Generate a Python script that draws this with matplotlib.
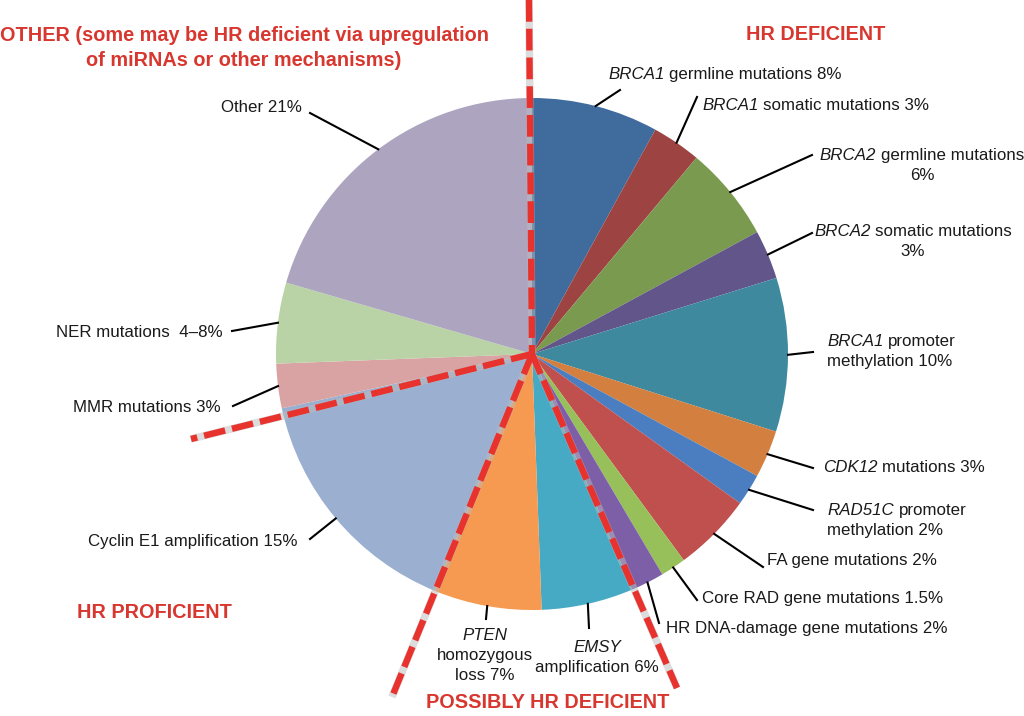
import matplotlib.pyplot as plt
import numpy as np

plt.rcParams['font.family'] = 'Liberation Sans'

# slice sizes as drawn (percent of the circle), clockwise from 12 o'clock
# *...* marks the italic (gene name) part of a label
labels = [
    '*BRCA1* germline mutations 8%',
    '*BRCA1* somatic mutations 3%',
    '*BRCA2* germline mutations\n6%',
    '*BRCA2* somatic mutations\n3%',
    '*BRCA1* promoter\nmethylation 10%',
    '*CDK12* mutations 3%',
    '*RAD51C* promoter\nmethylation 2%',
    'FA gene mutations 2%',
    'Core RAD gene mutations 1.5%',
    'HR DNA-damage gene mutations 2%',
    '*EMSY*\namplification 6%',
    '*PTEN*\nhomozygous\nloss 7%',
    'Cyclin E1 amplification 15%',
    'MMR mutations 3%',
    'NER mutations  4\u20138%',
    'Other 21%',
]
values = [8, 3.1, 6, 3.1, 9.7, 3, 2, 5, 1.6, 2.1, 5.8, 6.8, 15.4, 2.8, 5.1, 20.5]
colors = ['#3f6b9d', '#9d4443', '#7a9a4f', '#62558a', '#3e899e', '#d27f3f',
          '#4a7ec0', '#c0504d', '#98c05a', '#7d5fa8', '#46aac4', '#f59a50',
          '#9bb0d0', '#d9a3a3', '#bad3a6', '#ada5c0']

# label placement: text anchor (block centre), alignment, end of leader line
label_pos = [
    (608, 643, 'left'), (702, 612, 'left'), (922, 552, 'center'),
    (913, 476, 'center'), (827, 366, 'left'), (823, 250, 'left'),
    (827, 197, 'left'), (767, 157, 'left'), (702, 119, 'left'),
    (666, 89, 'left'), (597, 60, 'center'), (485, 62, 'center'),
    (298, 176, 'right'), (221, 310, 'right'), (223, 385, 'right'),
    (302, 610, 'right'),
]
leader_end = [
    (620, 626), (697, 619), (812, 561), (812, 483), (813, 364), (813, 248),
    (813, 206), (763, 149), (697, 116), (659, 93), (589, 88), (486, 97),
    (310, 177), (233, 310), (232, 385), (310, 603),
]

red = '#d8372f'
dash_red = '#e8322e'
FS = 12.2
LINE_H = 20.5

fig = plt.figure(figsize=(10.24, 7.16), dpi=100)
ax = fig.add_axes([0, 0, 1, 1])

CX, CY, R = 532, 362, 256
wedges, _ = ax.pie(values, colors=colors, startangle=90, counterclock=False,
                   center=(CX, CY), radius=R, frame=True,
                   wedgeprops=dict(linewidth=0))
ax.set_xlim(0, 1024)
ax.set_ylim(0, 716)
ax.set_aspect('equal')
ax.axis('off')

renderer = fig.canvas.get_renderer()


def text_width(s, style):
    t = ax.text(0, 0, s, fontsize=FS, style=style)
    w = t.get_window_extent(renderer).width
    t.remove()
    return w


space_w = text_width('x x', 'normal') - text_width('xx', 'normal')


def draw_label(x, y, text, ha):
    lines = text.split('\n')
    n = len(lines)
    for i, line in enumerate(lines):
        base = y + (n - 1) / 2 * LINE_H - i * LINE_H - 6
        segs = []
        for k, s in enumerate(line.split('*')):
            if s.strip():
                segs.append((s, 'italic' if k % 2 else 'normal'))
        # widths with explicit spacing between segments
        parts = []
        for s, st in segs:
            lead = len(s) - len(s.lstrip(' '))
            trail = len(s) - len(s.rstrip(' '))
            parts.append((s.strip(' '), st, lead, trail))
        total = 0
        widths = []
        for s, st, lead, trail in parts:
            w = text_width(s, st)
            widths.append(w)
            total += lead * space_w + w + trail * space_w
        if parts:
            total -= parts[0][2] * space_w + parts[-1][3] * space_w
        x0 = {'left': x, 'center': x - total / 2, 'right': x - total}[ha]
        cur = x0
        for j, ((s, st, lead, trail), w) in enumerate(zip(parts, widths)):
            if j > 0:
                cur += lead * space_w
            ax.text(cur, base, s, fontsize=FS, style=st, color='#1a1a1a',
                    ha='left', va='baseline', zorder=5)
            cur += w + trail * space_w


for w, lab, (tx, ty, ha), (ex, ey) in zip(wedges, labels, label_pos, leader_end):
    mid = np.deg2rad((w.theta1 + w.theta2) / 2)
    sx, sy = CX + R * np.cos(mid), CY + R * np.sin(mid)
    ax.plot([sx, ex], [sy, ey], color='black', lw=1.5, zorder=3)
    draw_label(tx, ty, lab, ha)

# red dashed dividers
dividers = [((529, 716), (CX, CY)), ((CX, CY), (191, 277)),
            ((CX, CY), (392, 19)), ((CX, CY), (677, 28))]
for (x0, y0), (x1, y1) in dividers:
    ax.plot([x0, x1], [y0, y1], color='#bbbbbb', lw=5.4, alpha=0.5,
            solid_capstyle='butt', zorder=3.5)
    ax.plot([x0, x1], [y0, y1], color=dash_red, lw=4.6,
            linestyle=(0, (3.4, 1.1)), dash_capstyle='butt', zorder=4)

hdr = dict(color=red, fontsize=14.3, fontweight='bold', ha='center', va='center', zorder=6)
ax.text(244, 668, 'OTHER (some may be HR deficient via upregulation\nof miRNAs or other mechanisms)',
        linespacing=1.45, **hdr)
ax.text(816, 681, 'HR DEFICIENT', **hdr)
ax.text(154, 103, 'HR PROFICIENT', **hdr)
ax.text(548, 13, 'POSSIBLY HR DEFICIENT', **hdr)

fig.savefig('out.png', dpi=100)
